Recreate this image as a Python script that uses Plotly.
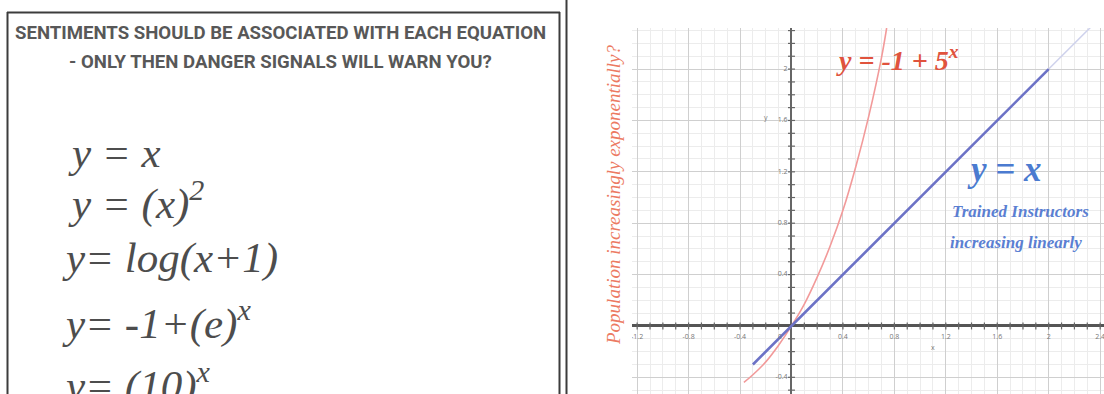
import plotly.graph_objects as go

W, H = 1104, 394

# values
red_x = [-0.37, -0.3, -0.2, -0.1, 0.0, 0.1, 0.2, 0.3, 0.4, 0.5, 0.6, 0.7, 0.74]
red_y = [-0.44, -0.38, -0.28, -0.15, 0.0, 0.17, 0.38, 0.62, 0.90, 1.24, 1.63, 2.09, 2.32]
blue_x = [-0.3, 2.0]
blue_y = [-0.3, 2.0]
faint_x = [2.0, 2.35]
faint_y = [2.0, 2.35]

x_tick_vals = [-1.2, -0.8, -0.4, 0.4, 0.8, 1.2, 1.6, 2, 2.4]
x_tick_text = ["-1.2", "-0.8", "-0.4", "0.4", "0.8", "1.2", "1.6", "2", "2.4"]
y_tick_vals = [2, 1.6, 1.2, 0.8, 0.4, -0.4]
y_tick_text = ["2", "1.6", "1.2", "0.8", "0.4", "-0.4"]

title_lines = ["SENTIMENTS SHOULD BE ASSOCIATED WITH EACH EQUATION",
               "- ONLY THEN DANGER SIGNALS WILL WARN YOU?"]
equations = ["y = x", "y = (x)<sup>2</sup>", "y= log(x+1)",
             "y= -1+(e)<sup>x</sup>", "y= (10)<sup>x</sup>"]
eq_rows = [152, 200, 258, 320, 382]
eq_left = [66, 66, 60, 60, 60]


def px(x):
    return x / W


def py(y):
    return 1 - y / H


fig = go.Figure()

# tick marks along the two axes (every 0.1)
minor_x = [i / 10 for i in range(-12, 25) if i != 0]
minor_y = [i / 10 for i in range(-5, 24) if i != 0]
fig.add_trace(go.Scatter(x=minor_x, y=[0] * len(minor_x), mode="markers",
                         marker=dict(symbol="line-ns", size=5, line=dict(width=1.2, color="#666")),
                         hoverinfo="skip"))
fig.add_trace(go.Scatter(x=[0] * len(minor_y), y=minor_y, mode="markers",
                         marker=dict(symbol="line-ew", size=5, line=dict(width=1.2, color="#666")),
                         hoverinfo="skip"))

fig.add_trace(go.Scatter(x=faint_x, y=faint_y, mode="lines",
                         line=dict(color="#cfd2ec", width=1.5)))
fig.add_trace(go.Scatter(x=red_x, y=red_y, mode="lines",
                         line=dict(color="#f29a9a", width=1.6, shape="spline")))
fig.add_trace(go.Scatter(x=blue_x, y=blue_y, mode="lines",
                         line=dict(color="#6c72c6", width=2.6)))

# tick labels next to the axes
fig.add_trace(go.Scatter(x=x_tick_vals, y=[-0.09] * len(x_tick_vals), mode="text",
                         text=x_tick_text, textfont=dict(size=7, color="#777")))
fig.add_trace(go.Scatter(x=[-0.03] * len(y_tick_vals), y=y_tick_vals, mode="text",
                         text=y_tick_text, textposition="middle left",
                         textfont=dict(size=7, color="#777")))
fig.add_trace(go.Scatter(x=[-0.09, -0.2, 1.1], y=[-0.09, 1.62, -0.17], mode="text",
                         text=["0", "y", "x"], textfont=dict(size=7, color="#777")))

serif = "Liberation Serif, DejaVu Serif"
ann = []
for i, t in enumerate(title_lines):
    ann.append(dict(xref="paper", yref="paper", x=px(280), y=py(33 + 29 * i),
                    text=t, showarrow=False, xanchor="center", yanchor="middle",
                    font=dict(family="Roboto", size=18.6, color="#585858", weight="bold")))
for t, r, l in zip(equations, eq_rows, eq_left):
    ann.append(dict(xref="paper", yref="paper", x=px(l), y=py(r), text=t,
                    showarrow=False, xanchor="left", yanchor="middle",
                    font=dict(family=serif, size=43, color="#4d4d4d", style="italic")))

ann.append(dict(xref="paper", yref="paper", x=px(613), y=py(195), textangle=-90,
                text="Population increasingly exponentially?", showarrow=False,
                font=dict(family=serif, size=19, color="#ec7a62", style="italic")))
ann.append(dict(x=0.33, y=2.08, xanchor="left", text="y = -1 + 5<sup>x</sup>", showarrow=False,
                font=dict(family=serif, size=28, color="#e0533d", style="italic", weight="bold")))
ann.append(dict(x=1.35, y=1.22, xanchor="left", text="y = x", showarrow=False,
                font=dict(family=serif, size=35, color="#4b7bd0", style="italic", weight="bold")))
ann.append(dict(x=1.23, y=0.89, xanchor="left", text="Trained Instructors", showarrow=False,
                font=dict(family=serif, size=17, color="#5b7fd2", style="italic", weight="bold")))
ann.append(dict(x=1.22, y=0.65, xanchor="left", text="increasing linearly", showarrow=False,
                font=dict(family=serif, size=17, color="#5b7fd2", style="italic", weight="bold")))

border = "#3c3c3c"
shapes = [
    dict(type="line", xref="paper", yref="paper", x0=px(7.5), x1=px(7.5), y0=py(12), y1=0,
         line=dict(color=border, width=2)),
    dict(type="line", xref="paper", yref="paper", x0=px(7), x1=px(560), y0=py(12.5), y1=py(12.5),
         line=dict(color=border, width=2)),
    dict(type="line", xref="paper", yref="paper", x0=px(559.5), x1=px(559.5), y0=py(12), y1=0,
         line=dict(color=border, width=2)),
    dict(type="line", xref="paper", yref="paper", x0=px(566.5), x1=px(566.5), y0=1, y1=0,
         line=dict(color=border, width=2)),
]

fig.update_layout(
    width=W, height=H, margin=dict(l=0, r=0, t=0, b=0),
    paper_bgcolor="white", plot_bgcolor="white", showlegend=False,
    annotations=ann, shapes=shapes,
    xaxis=dict(domain=[px(632), 1], range=[-1.24, 2.43], dtick=0.4, tick0=0,
               showticklabels=False, ticks="", gridcolor="#cfcfcf", gridwidth=1,
               minor=dict(dtick=0.1, showgrid=True, gridcolor="#ececec"),
               zeroline=True, zerolinecolor="#666", zerolinewidth=2, fixedrange=True),
    yaxis=dict(domain=[0, py(28)], range=[-0.53, 2.32], dtick=0.4, tick0=0,
               showticklabels=False, ticks="", gridcolor="#cfcfcf", gridwidth=1,
               minor=dict(dtick=0.1, showgrid=True, gridcolor="#ececec"),
               zeroline=True, zerolinecolor="#555", zerolinewidth=2.5, fixedrange=True),
)

fig.write_html("out.html", config={"displayModeBar": False},
               post_script="document.body.style.margin='0';")
